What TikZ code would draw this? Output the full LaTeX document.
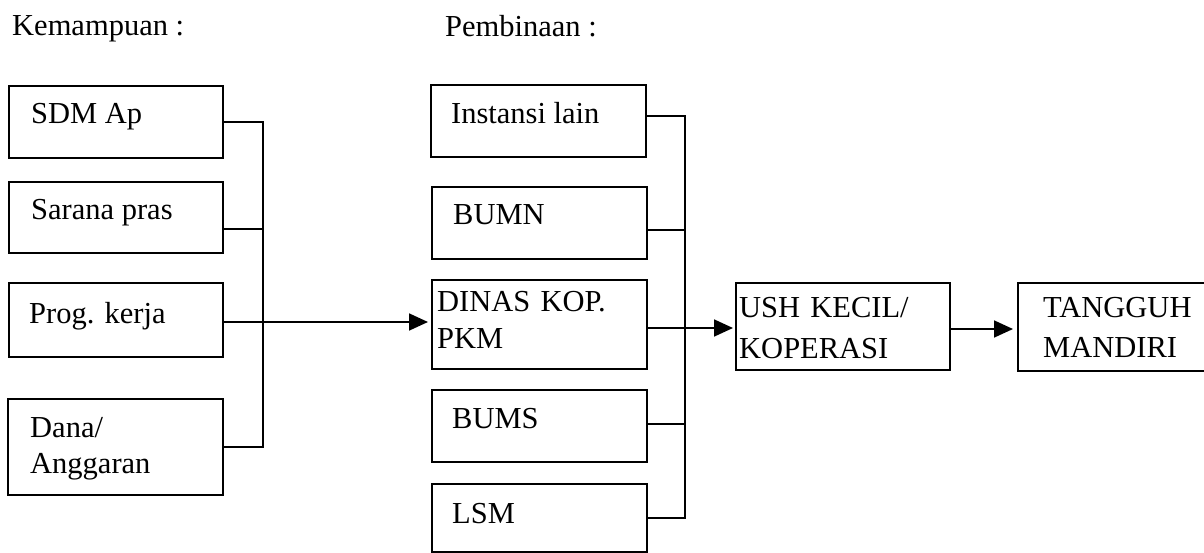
\documentclass[tikz,border=0pt]{standalone}
\usepackage{fontspec}
\setmainfont{Liberation Serif}
\usetikzlibrary{arrows.meta,calc}
\tikzset{
  box/.style={draw=black, line width=2pt, rectangle, inner sep=0pt, anchor=north west},
  txt/.style={inner sep=0pt, anchor=base west, font=\fontsize{30.5}{36}\selectfont},
  txtm/.style={txt, text width=#1, align=left},
  conn/.style={draw=black, line width=1.8pt},
  arr/.style={conn, -{Triangle[length=19pt,width=17pt]}},
}
\begin{document}
\begin{tikzpicture}[x=1pt,y=-1pt]
\useasboundingbox (0,0) rectangle (1204,553);
\fill[white] (0,0) rectangle (1204,553);
\clip (0,0) rectangle (1204,553);

% headings
\node[txt] (hkem) at (12,36) {Kemampuan :};
\node[txt] (hpem) at (445,37) {Pembinaan :};

% left column boxes
\node[box, minimum width=214pt, minimum height=72pt] (sdm) at (8,85) {};
\node[box, minimum width=214pt, minimum height=71pt] (sar) at (8,181) {};
\node[box, minimum width=214pt, minimum height=74pt] (prog) at (8,282) {};
\node[box, minimum width=215pt, minimum height=96pt] (dana) at (7,398) {};

\node[txt] (sdmt) at (31,124) {SDM Ap};
\node[txt] (sart) at (31,220) {Sarana pras};
\node[txt] (progt) at (29,323) {Prog. kerja};
\node[txtm=180pt] (danat) at (30,437) {Dana/\\Anggaran};

% middle column boxes
\node[box, minimum width=215pt, minimum height=72pt] (inst) at (430,84) {};
\node[box, minimum width=215pt, minimum height=72pt] (bumn) at (431,186) {};
\node[box, minimum width=215pt, minimum height=89pt] (dinas) at (431,279) {};
\node[box, minimum width=215pt, minimum height=72pt] (bums) at (431,389) {};
\node[box, minimum width=215pt, minimum height=68pt] (lsm) at (431,483) {};

\node[txt] (instt) at (451,124) {Instansi lain};
\node[txt] (bumnt) at (453,225) {BUMN};
\node[txtm=200pt, font=\fontsize{30.5}{37}\selectfont] (dinast) at (437,311) {DINAS KOP.\\PKM};
\node[txt] (bumst) at (452,428) {BUMS};
\node[txt] (lsmt) at (452,523) {LSM};

% right boxes
\node[box, minimum width=214pt, minimum height=87pt] (ush) at (735,282) {};
\node[box, minimum width=220pt, minimum height=88pt] (tang) at (1017,282) {};

\node[txtm=205pt, font=\fontsize{30.5}{41}\selectfont] (usht) at (739,317) {USH KECIL/\\KOPERASI};
\node[txtm=170pt, font=\fontsize{30.5}{40}\selectfont] (tangt) at (1043,317) {TANGGUH\\MANDIRI};

% left bus
\coordinate (lb) at (263,0);
\draw[conn] (sdm.east) -| (lb |- dana.east) -- (dana.east);
\draw[conn] ([yshift=-11.5pt]sar.east) -- ([yshift=-11.5pt]sar.east -| lb);
\draw[arr, shorten >=3pt] ([yshift=-2pt]prog.east) -- ([yshift=-2pt]prog.east -| dinas.west);

% middle bus
\coordinate (mb) at (685,0);
\draw[conn] ([yshift=5pt]inst.east) -| (mb |- lsm.east) -- (lsm.east);
\draw[conn] ([yshift=-7pt]bumn.east) -- ([yshift=-7pt]bumn.east -| mb);
\draw[conn] ([yshift=2pt]bums.east) -- ([yshift=2pt]bums.east -| mb);
\draw[arr, shorten >=2pt] ([yshift=-3.5pt]dinas.east) -- ([yshift=-3.5pt]dinas.east -| ush.west);
\draw[arr, shorten >=4pt] ([yshift=-2.5pt]ush.east) -- ([yshift=-2.5pt]ush.east -| tang.west);
\end{tikzpicture}
\end{document}
